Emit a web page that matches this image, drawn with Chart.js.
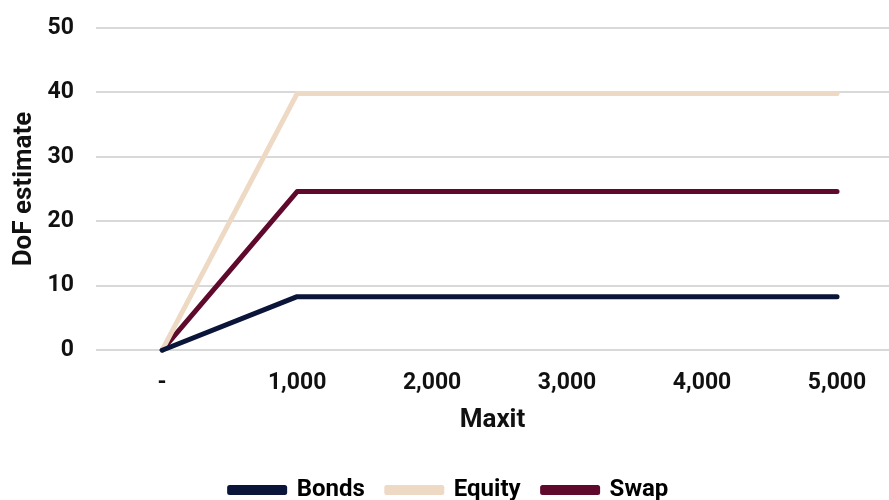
<!DOCTYPE html>
<html>
<head>
<meta charset="utf-8">
<script src="https://cdn.jsdelivr.net/npm/chart.js@4"></script>
<style>
  html, body { margin: 0; padding: 0; background: #fff; overflow: hidden; }
  #wrap { width: 889px; height: 520px; margin-top: -8px; }
</style>
</head>
<body>
<div id="wrap"><canvas id="chart"></canvas></div>
<script>
// x categories (Maxit)
const maxitLabels = ["-", "1,000", "2,000", "3,000", "4,000", "5,000"];
// DoF estimates per series
const bonds = [0, 8.3, 8.3, 8.3, 8.3, 8.3];
const equity = [0, 39.8, 39.8, 39.8, 39.8, 39.8];
const swap = [0, 24.6, 24.6, 24.6, 24.6, 24.6];
const yTicks = [0, 10, 20, 30, 40, 50];

function toPoints(arr) {
  return arr.map((v, i) => ({ x: i, y: v }));
}

const font = { family: "Roboto", weight: "bold", size: 23 };
const titleFont = { family: "Roboto", weight: "bold", size: 26 };
const legendFont = { family: "Roboto", weight: "bold", size: 24 };
const txt = "#111";

function makeSet(label, values, color) {
  return {
    label: label,
    data: toPoints(values),
    borderColor: color,
    backgroundColor: color,
    borderWidth: 5,
    borderCapStyle: "round",
    borderJoinStyle: "round",
    pointRadius: 0,
    tension: 0,
    clip: false
  };
}

const ctx = document.getElementById("chart");
new Chart(ctx, {
  type: "line",
  data: {
    datasets: [
      makeSet("Bonds", bonds, "#0b1539"),
      makeSet("Equity", equity, "#eed9c4"),
      makeSet("Swap", swap, "#5f0a2d")
    ]
  },
  options: {
    responsive: true,
    maintainAspectRatio: false,
    animation: false,
    layout: { padding: { top: 1, right: 0, left: 9, bottom: 0 } },
    scales: {
      x: {
        type: "linear",
        min: -0.49,
        max: 5.385,
        afterBuildTicks: (scale) => {
          scale.ticks = maxitLabels.map((_, i) => ({ value: i }));
        },
        ticks: {
          callback: (v) => maxitLabels[v],
          font: font,
          color: txt,
          padding: 11,
          maxRotation: 0
        },
        grid: { display: false },
        border: { display: false },
        title: {
          display: true,
          text: "Maxit",
          font: titleFont,
          color: txt,
          padding: { top: -3, bottom: 20 }
        }
      },
      y: {
        min: 0,
        max: 50,
        afterBuildTicks: (scale) => {
          scale.ticks = yTicks.map((v) => ({ value: v }));
        },
        afterFit: (scale) => {
          scale.width = 87;
        },
        ticks: { font: font, color: txt, padding: 22 },
        grid: { color: "#d9d9d9", lineWidth: 2, drawTicks: false },
        border: { display: false },
        title: {
          display: true,
          text: "DoF estimate",
          font: titleFont,
          color: txt,
          padding: { top: 0, bottom: 6 }
        }
      }
    },
    plugins: {
      legend: {
        position: "bottom",
        labels: {
          font: legendFont,
          color: "#000",
          boxWidth: 55,
          boxHeight: 5,
          padding: 22
        }
      },
      tooltip: { enabled: false }
    }
  }
});
</script>
</body>
</html>
